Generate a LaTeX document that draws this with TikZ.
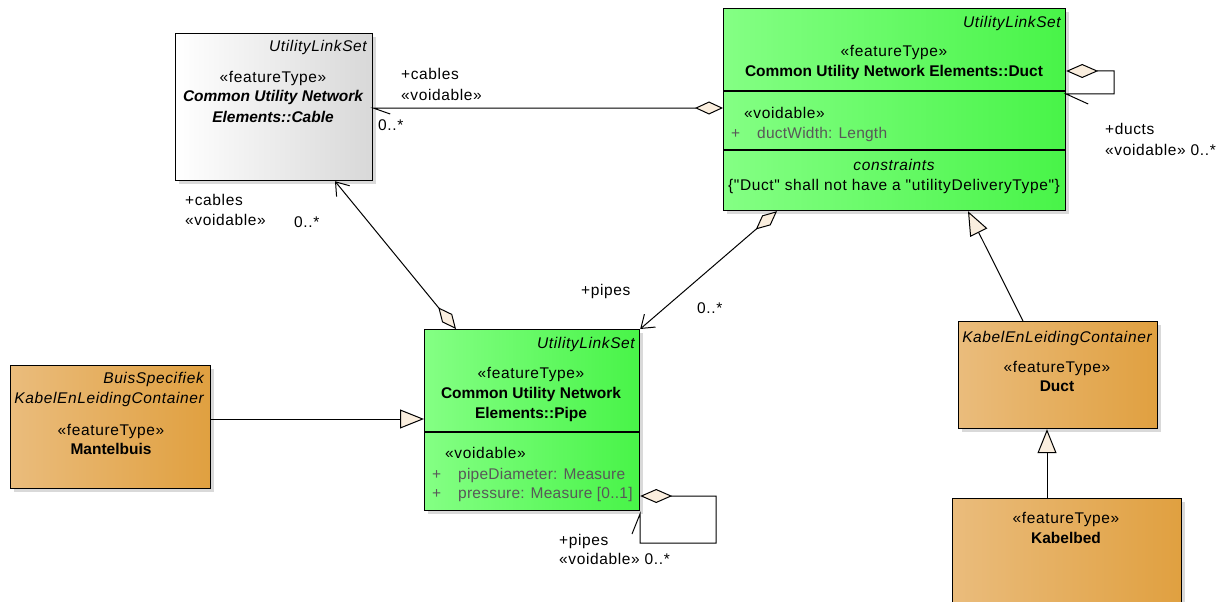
\documentclass[tikz,border=0pt]{standalone}
\usepackage{fontspec}
\setmainfont{Liberation Sans}
\newfontfamily\regf{Liberation Sans}[LetterSpace=4]
\newfontfamily\attrf{Liberation Sans}[LetterSpace=1.5]
\usetikzlibrary{arrows.meta,shadows,calc}
\definecolor{gL}{RGB}{132,255,132}
\definecolor{gR}{RGB}{72,244,72}
\definecolor{oL}{RGB}{234,188,124}
\definecolor{oR}{RGB}{224,160,64}
\definecolor{cR}{RGB}{216,216,216}
\definecolor{tipfill}{RGB}{250,238,222}
\definecolor{attr}{RGB}{88,88,88}
\newcommand\dfs{\fontsize{15.5}{18}\selectfont}
\tikzset{
  dia/.tip={Diamond[length=28pt,width=13pt,fill=tipfill,line width=1pt]},
  diab/.tip={Diamond[length=32pt,width=14pt,fill=tipfill,line width=1pt]},
  barb/.tip={Straight Barb[length=12pt,width=17pt,line width=1pt]},
  gen/.tip={Triangle[length=24pt,width=19pt,fill=tipfill,line width=1pt]},
}
\begin{document}
\begin{tikzpicture}[x=1pt,y=-1pt,
  box/.style={draw=black, line width=1.2pt, anchor=north west, inner sep=0pt,
    drop shadow={shadow xshift=3pt, shadow yshift=-3pt, fill=black, opacity=0.15}},
  cablebox/.style={box, left color=white, right color=cR},
  greenbox/.style={box, left color=gL, right color=gR},
  orangebox/.style={box, left color=oL, right color=oR},
  txt/.style={inner sep=0pt, anchor=base, font=\regf\dfs},
  itx/.style={inner sep=0pt, anchor=base, font=\regf\dfs\itshape},
  btx/.style={inner sep=0pt, anchor=base, font=\rmfamily\dfs\bfseries},
  bitx/.style={inner sep=0pt, anchor=base, font=\rmfamily\dfs\bfseries\itshape},
  atx/.style={inner sep=0pt, anchor=base west, font=\attrf\dfs, text=attr},
  conn/.style={draw=black, line width=1pt},
]
\useasboundingbox (0,0) rectangle (1227,602);

% ---------- boxes ----------
\node[cablebox, minimum width=197pt, minimum height=147pt] (cable) at (175,33) {};
\node[greenbox, minimum width=342pt, minimum height=202pt] (duct) at (723,8) {};
\node[greenbox, minimum width=215pt, minimum height=181pt] (pipe) at (424,329) {};
\node[orangebox, minimum width=200pt, minimum height=123pt] (mantel) at (10,365) {};
\node[orangebox, minimum width=199pt, minimum height=107pt] (oduct) at (958,321) {};
\node[orangebox, minimum width=229pt, minimum height=130pt] (kabel) at (952,498) {};

% compartments
\draw[line width=1.2pt] (duct.west |- 0,91) -- (duct.east |- 0,91);
\draw[line width=1.2pt] (duct.west |- 0,150) -- (duct.east |- 0,150);
\draw[line width=1.2pt] (pipe.west |- 0,432) -- (pipe.east |- 0,432);

% ---------- Cable texts ----------
\node[itx, anchor=base east] (cst) at (367,52) {UtilityLinkSet};
\node[txt] (cft) at (273,82) {«featureType»};
\node[bitx] (cn1) at (273,101) {Common Utility Network};
\node[bitx] (cn2) at (273,122) {Elements::Cable};

% ---------- Duct (green) texts ----------
\node[itx, anchor=base east] (dst) at (1061,28) {UtilityLinkSet};
\node[txt] (dft) at (894,57) {«featureType»};
\node[btx] (dn) at (894,77) {Common Utility Network Elements::Duct};
\node[txt, anchor=base west] (dvo) at (744,118) {«voidable»};
\node[atx] (dpl) at (731,138) {+};
\node[atx] (dat) at (757,138) {ductWidth: Length};
\node[itx] (dco) at (894,170) {constraints};
\node[txt] (dct) at (894,190) {\{"Duct" shall not have a "utilityDeliveryType"\}};

% ---------- Pipe texts ----------
\node[itx, anchor=base east] (pst) at (635,348) {UtilityLinkSet};
\node[txt] (pft) at (531,378) {«featureType»};
\node[btx] (pn1) at (531,398) {Common Utility Network};
\node[btx] (pn2) at (531,418) {Elements::Pipe};
\node[txt, anchor=base west] (pvo) at (445,458) {«voidable»};
\node[atx] (pp1) at (432,479) {+};
\node[atx] (pa1) at (458,479) {pipeDiameter: Measure};
\node[atx] (pp2) at (432,498) {+};
\node[atx] (pa2) at (458,498) {pressure: Measure [0..1]};

% ---------- Mantelbuis texts ----------
\node[itx, anchor=base east] (ms1) at (204,383) {BuisSpecifiek};
\node[itx, anchor=base east] (ms2) at (204,403) {KabelEnLeidingContainer};
\node[txt] (mft) at (111,435) {«featureType»};
\node[btx] (mn) at (111,454) {Mantelbuis};

% ---------- Orange Duct texts ----------
\node[itx] (os) at (1057,342) {KabelEnLeidingContainer};
\node[txt] (oft) at (1057,372) {«featureType»};
\node[btx] (on) at (1057,391) {Duct};

% ---------- Kabelbed texts ----------
\node[txt] (kft) at (1066,523) {«featureType»};
\node[btx] (kn) at (1066,543) {Kabelbed};

% ---------- connectors ----------
% Cable -- Duct
\draw[conn, {dia}-] (duct.west |- 0,108) -- (cable.east |- 0,108) -- ++(17,6);
\node[txt, anchor=base west] (l1a) at (401,80) {+cables};
\node[txt, anchor=base west] (l1b) at (401,100) {«voidable»};
\node[txt, anchor=base west] (l1c) at (378,131) {0..*};

% Pipe -> Cable
\draw[conn, {dia}-{barb}] ($(pipe.north west)+(32,0)$) -- ($(cable.south west)+(160,0)$);
\node[txt, anchor=base west] (l2a) at (185,205) {+cables};
\node[txt, anchor=base west] (l2b) at (185,225) {«voidable»};
\node[txt, anchor=base west] (l2c) at (294,227) {0..*};

% Duct -> Pipe
\draw[conn, {dia}-{barb}] ($(duct.south west)+(54,0)$) -- (pipe.north east);
\node[txt, anchor=base west] (l3a) at (581,295) {+pipes};
\node[txt, anchor=base west] (l3b) at (697,313) {0..*};

% Duct self
\draw[conn, {diab}-] (duct.east |- 0,71) -- (1114,71) -- (1114,94) -- (duct.east |- 0,94) -- ++(22,10);
\node[txt, anchor=base west] (l4a) at (1105,135) {+ducts};
\node[txt, anchor=base west] (l4b) at (1105,155) {«voidable» 0..*};

% Pipe self
\draw[conn, {diab}-] (pipe.east |- 0,496) -- (716,496) -- (716,543) -- (640,543) -- (640,514) -- ++(-8,20);
\node[txt, anchor=base west] (l5a) at (559,545) {+pipes};
\node[txt, anchor=base west] (l5b) at (559,564) {«voidable» 0..*};

% Generalizations
\draw[conn, -{gen}] (mantel.east |- 0,419) -- (pipe.west |- 0,419);
\draw[conn, -{gen}] ($(oduct.north west)+(65,0)$) -- ($(duct.south west)+(245,0)$);
\draw[conn, -{gen}] ($(kabel.north west)+(95,0)$) -- (oduct.south west -| 1047,0);
\end{tikzpicture}
\end{document}
